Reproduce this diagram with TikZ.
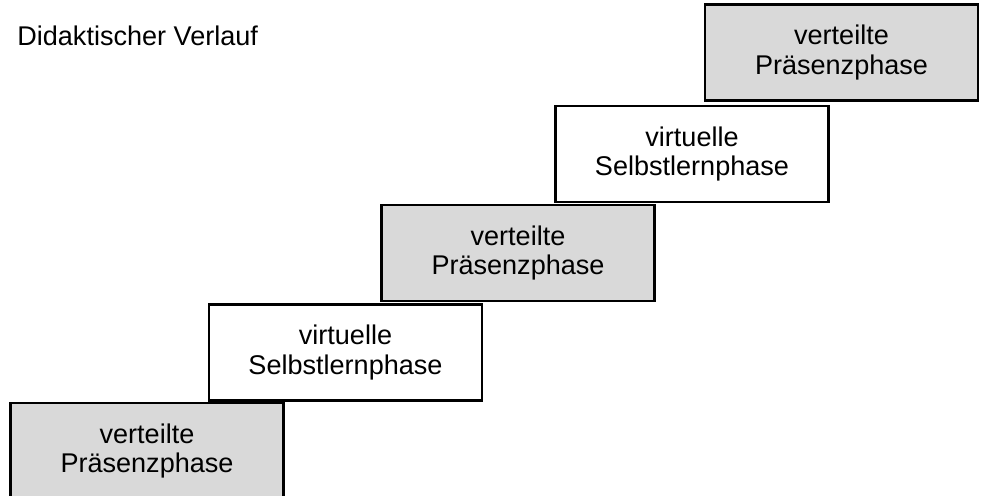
\documentclass[tikz,border=0pt]{standalone}
\usepackage{fontspec}
\setmainfont{Liberation Sans}

\begin{document}
\begin{tikzpicture}[x=0.02cm, y=-0.02cm,
		phase/.style={draw, line width=1.4pt, align=center, inner sep=0pt,
			minimum width=5.46cm, minimum height=1.92cm,
			font=\fontsize{15.4}{17}\selectfont},
		praesenz/.style={phase, fill=black!15},
		virtuell/.style={phase, fill=white}]
		%%%%% START %%%%%
		
		\useasboundingbox (0, 0) rectangle (990, 495);
		
		\node[anchor=base west, inner sep=0pt, font=\fontsize{15.4}{17}\selectfont] (titel) at (17, 45) {Didaktischer Verlauf};
		
		\node[praesenz] (p1) at (147, 451) {verteilte\\Präsenzphase};
		\node[virtuell] (v1) at (345.5, 352.5) {virtuelle\\Selbstlernphase};
		\node[praesenz] (p2) at (518, 253) {verteilte\\Präsenzphase};
		\node[virtuell] (v2) at (692, 154) {virtuelle\\Selbstlernphase};
		\node[praesenz] (p3) at (841.5, 52.5) {verteilte\\Präsenzphase};
		
		%%%%% END %%%%%
	\end{tikzpicture}
\end{document}
